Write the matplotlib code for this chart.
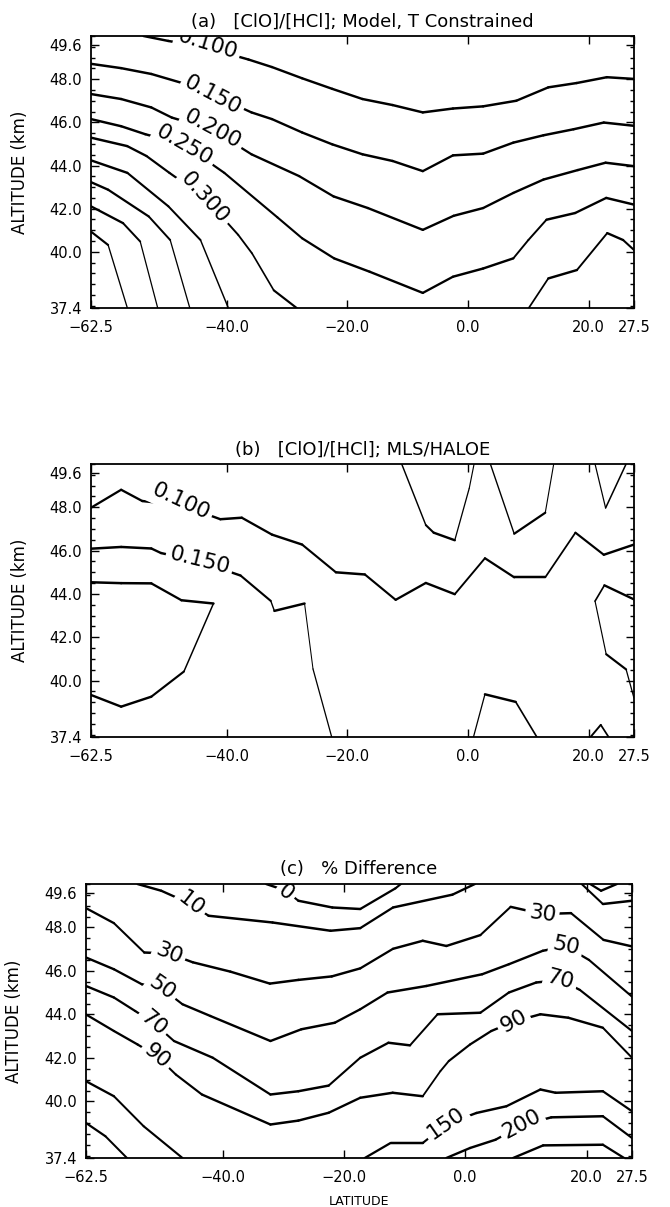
#!/usr/bin/env python3
"""
Latitude-altitude contour panels of the [ClO]/[HCl] ratio:
(a) model run, (b) MLS/HALOE retrieval, (c) percent difference.

Each contour is stored as the list of (latitude, altitude) vertices it
passes through, keyed by its contour level.
"""

import numpy as np
import matplotlib

matplotlib.use("Agg")
import matplotlib.pyplot as plt
from matplotlib.collections import LineCollection
from matplotlib.ticker import FixedLocator, MultipleLocator


LAT_RANGE = (-62.5, 27.5)
ALT_RANGE = (37.4, 50.0)

LAT_TICKS = [-62.5, -40.0, -20.0, 0.0, 20.0, 27.5]
LAT_TICK_LABELS = ["\u221262.5", "\u221240.0", "\u221220.0", "0.0", "20.0", "27.5"]
ALT_TICKS = [37.4, 40.0, 42.0, 44.0, 46.0, 48.0, 49.6]
ALT_TICK_LABELS = ["37.4", "40.0", "42.0", "44.0", "46.0", "48.0", "49.6"]

# --- (a) model ratio: (level, latitudes, altitudes) ---
MODEL_LINES = [
    (0.100,
     [-53.8, -49.7, -43.2, -36.4, -32.5, -27.5, -22.5, -17.5, -12.5, -7.5,
      -2.5, 2.5, 8.0, 13.3, 18.0, 23.0, 27.5],
     [50.0, 49.77, 49.45, 48.91, 48.56, 48.04, 47.55, 47.08, 46.80, 46.46,
      46.64, 46.74, 47.0, 47.62, 47.82, 48.09, 48.01]),
    (0.150,
     [-62.5, -57.5, -52.5, -47.5, -42.3, -35.9, -32.5, -27.5, -22.5, -17.5,
      -12.5, -7.5, -2.5, 2.5, 7.5, 12.5, 17.5, 22.5, 27.5],
     [48.71, 48.51, 48.24, 47.83, 47.28, 46.46, 46.15, 45.53, 44.98, 44.52,
      44.21, 43.74, 44.47, 44.55, 45.06, 45.40, 45.68, 45.99, 45.84]),
    (0.200,
     [-62.5, -57.5, -52.5, -49.1, -42.3, -35.9, -28.0, -22.3, -16.6, -7.5,
      -2.4, 2.5, 7.5, 12.5, 18.2, 22.8, 27.5],
     [47.31, 47.08, 46.69, 46.22, 45.65, 44.52, 43.51, 42.57, 42.03, 41.02,
      41.67, 42.03, 42.73, 43.35, 43.79, 44.13, 43.97]),
    (0.250,
     [-62.5, -57.5, -53.5, -47.0, -40.4, -31.6, -27.5, -22.2, -16.3, -7.5,
      -2.5, 2.5, 7.5, 10.0, 13.0, 17.75, 22.9, 27.5],
     [46.15, 45.82, 45.45, 44.95, 43.66, 41.6, 40.63, 39.70, 39.08, 38.10,
      38.85, 39.23, 39.70, 40.55, 41.49, 41.80, 42.50, 42.19]),
    (0.300,
     [-62.5, -56.5, -53.3, -49.5, -43.6, -38.1, -35.8, -32.2, -28.4],
     [45.29, 44.9, 44.44, 43.66, 42.5, 40.79, 39.93, 38.22, 37.4]),
    (0.300,
     [10.06, 13.3, 18.05, 23.07, 25.7, 27.5],
     [37.4, 38.77, 39.16, 40.87, 40.55, 40.09]),
    (0.350,
     [-62.5, -56.47, -49.67, -44.35, -39.73],
     [44.24, 43.66, 42.11, 40.55, 37.4]),
    (0.400,
     [-62.5, -59.66, -52.92, -49.37, -46.12],
     [43.23, 42.88, 41.64, 40.55, 37.4]),
    (0.450,
     [-62.5, -57.18, -54.34, -51.44],
     [42.11, 41.33, 40.48, 37.4]),
    (0.500,
     [-62.5, -59.66, -56.47],
     [40.94, 40.32, 37.4]),
]
# (level, latitude, altitude, rotation)
MODEL_LABELS = [
    (0.100, -43.2, 49.6, -17),
    (0.150, -42.3, 47.28, -28),
    (0.200, -42.3, 45.70, -28),
    (0.250, -47.0, 44.95, -30),
    (0.300, -43.6, 42.50, -48),
]

# --- (b) MLS/HALOE ratio ---
OBS_LINES = [
    (0.100,
     [-62.5, -57.5, -54.0, -47.5, -41.05, -37.5, -32.5, -27.5, -21.9, -17.1,
      -12.0, -7.0, -2.2, 2.8, 7.65, 12.8, 17.8, 22.5, 27.5],
     [47.98, 48.81, 48.29, 48.1, 47.45, 47.52, 46.74, 46.28, 45.0, 44.9,
      43.73, 44.51, 43.99, 45.65, 44.77, 44.77, 46.83, 45.81, 46.28]),
    (0.150,
     [-62.5, -57.5, -52.5, -50.9, -44.5, -37.7, -32.7, -32.1, -27.1, -25.7,
      -22.6],
     [46.09, 46.17, 46.1, 45.89, 45.5, 44.85, 43.68, 43.22, 43.56, 40.54,
      37.4]),
    (0.200,
     [-62.5, -57.5, -52.5, -47.5, -42.2, -47.1, -52.5, -57.5, -62.5],
     [44.54, 44.5, 44.49, 43.71, 43.56, 40.42, 39.26, 38.80, 39.34]),
    (0.050,
     [-11.0, -7.0, -5.7, -2.2, 0.2, 1.0],
     [50.0, 47.18, 46.83, 46.48, 48.88, 50.0]),
    (0.050,
     [3.7, 7.65, 12.8, 14.2],
     [50.0, 46.78, 47.75, 50.0]),
    (0.050,
     [21.05, 22.8, 26.2],
     [50.0, 47.97, 50.0]),
    (0.150,
     [27.5, 22.6, 21.05, 22.9, 26.2, 27.5],
     [43.75, 44.4, 43.67, 41.22, 40.52, 39.2]),
    (0.150,
     [0.9, 2.8, 7.9, 11.4],
     [37.4, 39.37, 39.02, 37.4]),
    (0.150,
     [20.3, 22.0, 23.3],
     [37.4, 37.96, 37.4]),
]
OBS_LABELS = [
    (0.100, -47.6, 48.25, -25),
    (0.150, -44.5, 45.55, -14),
]

# --- (c) percent difference ---
DIFF_LINES = [
    (0, [-32.8, -29.6, -27.5, -21.9, -17.3, -11.5, -10.6],
        [50.0, 49.7, 49.23, 48.92, 48.85, 49.8, 50.0]),
    (0, [20.6, 22.4, 25.0], [50.0, 49.69, 50.0]),
    (10, [-54.0, -50.1, -45.2, -42.3, -31.75, -22.2, -17.3, -11.9, -2.1, 1.6],
         [50.0, 49.69, 49.08, 48.54, 48.23, 47.85, 47.97, 48.92, 49.51, 50.0]),
    (10, [19.2, 22.7, 27.5], [50.0, 49.08, 49.23]),
    (30, [-62.5, -57.9, -52.9, -48.8, -44.9, -38.7, -32.2, -27.5, -22.0,
          -17.3, -11.9, -7.0, -3.1, 2.5, 7.5, 12.7, 17.45, 22.8, 27.5],
         [48.89, 48.2, 46.85, 46.8, 46.40, 45.97, 45.42, 45.59, 45.75,
          46.12, 47.02, 47.39, 47.15, 47.65, 48.95, 48.62, 48.66, 47.43,
          47.13]),
    (50, [-62.5, -57.9, -53.3, -50.0, -46.6, -42.0, -32.1, -27.0, -21.5,
          -17.3, -12.8, -6.4, 2.8, 7.2, 12.8, 16.6, 20.4, 27.5],
         [46.62, 46.08, 45.39, 45.2, 44.47, 43.93, 42.78, 43.32, 43.62,
          44.24, 45.01, 45.31, 45.85, 46.31, 46.93, 47.13, 46.51, 44.82]),
    (70, [-62.5, -57.9, -54.4, -51.4, -48.0, -41.6, -32.1, -27.5, -22.5,
          -17.3, -12.65, -9.1, -4.55, 2.5, 7.2, 11.7, 15.7, 18.9, 27.5],
         [45.31, 44.78, 44.16, 43.62, 42.78, 42.01, 40.32, 40.47, 40.73,
          42.01, 42.70, 42.58, 44.01, 44.08, 45.01, 45.47, 45.59, 45.13,
          43.24]),
    (90, [-62.5, -57.9, -54.0, -50.85, -47.7, -43.4, -32.1, -27.5, -22.5,
          -17.3, -11.95, -7.0, -4.1, -2.7, 0.8, 4.3, 8.0, 12.4, 17.0, 22.7,
          27.5],
         [44.0, 43.24, 42.62, 42.09, 41.24, 40.32, 38.94, 39.12, 39.48,
          40.17, 40.40, 40.24, 41.39, 41.86, 42.62, 43.24, 43.67, 44.01,
          43.85, 43.39, 42.01]),
    (150, [-62.5, -57.9, -53.0, -46.6], [40.93, 40.24, 38.86, 37.4]),
    (200, [-62.5, -59.3, -55.75], [39.01, 38.40, 37.4]),
    (150, [-16.55, -12.3, -7.0, -3.1, 1.85, 6.8, 12.4, 14.9, 22.7, 27.5],
          [37.4, 38.09, 38.09, 38.95, 39.47, 39.78, 40.55, 40.40, 40.47,
           39.55]),
    (200, [-3.1, 0.8, 5.0, 9.3, 14.2, 22.7, 27.5],
          [37.4, 37.86, 38.24, 38.9, 39.27, 39.32, 38.32]),
    (300, [7.9, 12.85, 22.7, 26.2], [37.4, 37.98, 38.01, 37.4]),
]
DIFF_LABELS = [
    (0, -29.6, 49.6, -38),
    (10, -45.2, 49.10, -38),
    (30, -48.8, 46.80, -22),
    (50, -50.0, 45.20, -35),
    (70, -51.4, 43.62, -40),
    (90, -50.85, 42.09, -40),
    (30, 12.7, 48.62, -8),
    (50, 16.6, 47.13, -12),
    (70, 15.7, 45.59, -15),
    (90, 8.0, 43.67, 28),
    (150, -3.1, 39.0, 35),
    (200, 9.3, 38.95, 28),
]


def setup_axes(ax, title):
    """Frame, ticks and title in the plain IDL style."""
    ax.set_xlim(*LAT_RANGE)
    ax.set_ylim(*ALT_RANGE)
    ax.xaxis.set_major_locator(FixedLocator(LAT_TICKS))
    ax.set_xticklabels(LAT_TICK_LABELS)
    ax.yaxis.set_major_locator(FixedLocator(ALT_TICKS))
    ax.set_yticklabels(ALT_TICK_LABELS)
    ax.yaxis.set_minor_locator(MultipleLocator(0.5))
    ax.tick_params(which="both", direction="in", top=True, right=True,
                   width=1.0, colors="black")
    ax.tick_params(which="major", length=6, labelsize=10.5)
    ax.tick_params(which="minor", length=3)
    ax.tick_params(axis="x", pad=8.5)
    ax.tick_params(axis="y", pad=6.5)
    for spine in ax.spines.values():
        spine.set_linewidth(1.3)
    ax.set_ylabel("ALTITUDE (km)", fontsize=12)
    ax.yaxis.set_label_coords(-0.115, 0.5)
    ax.set_title(title, fontsize=13, pad=7)


def draw_contours(ax, lines):
    """Draw each contour; steep segments come out thinner, as on the plotter."""
    for _, lats, alts in lines:
        pts = np.column_stack([lats, alts])
        scr = ax.transData.transform(pts)
        d = np.diff(scr, axis=0)
        flat = np.abs(d[:, 0]) / np.hypot(d[:, 0], d[:, 1])
        segs = np.stack([pts[:-1], pts[1:]], axis=1)
        ax.add_collection(LineCollection(
            segs, colors="black", linewidths=0.6 + 1.2 * flat,
            capstyle="round", zorder=2))


def draw_labels(ax, labels, fmt):
    """Inline contour labels that blank out the line underneath."""
    for level, lat, alt, rot in labels:
        ax.text(lat, alt, fmt.format(level), fontsize=15.5, rotation=rot,
                ha="center", va="center", rotation_mode="anchor",
                bbox=dict(facecolor="white", edgecolor="none", pad=2.5),
                clip_on=True, zorder=2.2)


def main():
    fig = plt.figure(figsize=(6.7, 12.07), dpi=100)

    ax_a = fig.add_axes([0.1358, 0.7448, 0.8104, 0.2254])
    ax_b = fig.add_axes([0.1358, 0.3894, 0.8104, 0.2262])
    ax_c = fig.add_axes([0.1284, 0.0406, 0.8149, 0.2270])

    setup_axes(ax_a, "(a)   [ClO]/[HCl]; Model, T Constrained")
    draw_contours(ax_a, MODEL_LINES)
    draw_labels(ax_a, MODEL_LABELS, "{:.3f}")

    setup_axes(ax_b, "(b)   [ClO]/[HCl]; MLS/HALOE")
    draw_contours(ax_b, OBS_LINES)
    draw_labels(ax_b, OBS_LABELS, "{:.3f}")

    setup_axes(ax_c, "(c)   % Difference")
    draw_contours(ax_c, DIFF_LINES)
    draw_labels(ax_c, DIFF_LABELS, "{:d}")
    ax_c.set_xlabel("LATITUDE", fontsize=9)
    ax_c.xaxis.set_label_coords(0.5, -0.135)

    fig.savefig("out.png", dpi=100)


if __name__ == "__main__":
    main()
